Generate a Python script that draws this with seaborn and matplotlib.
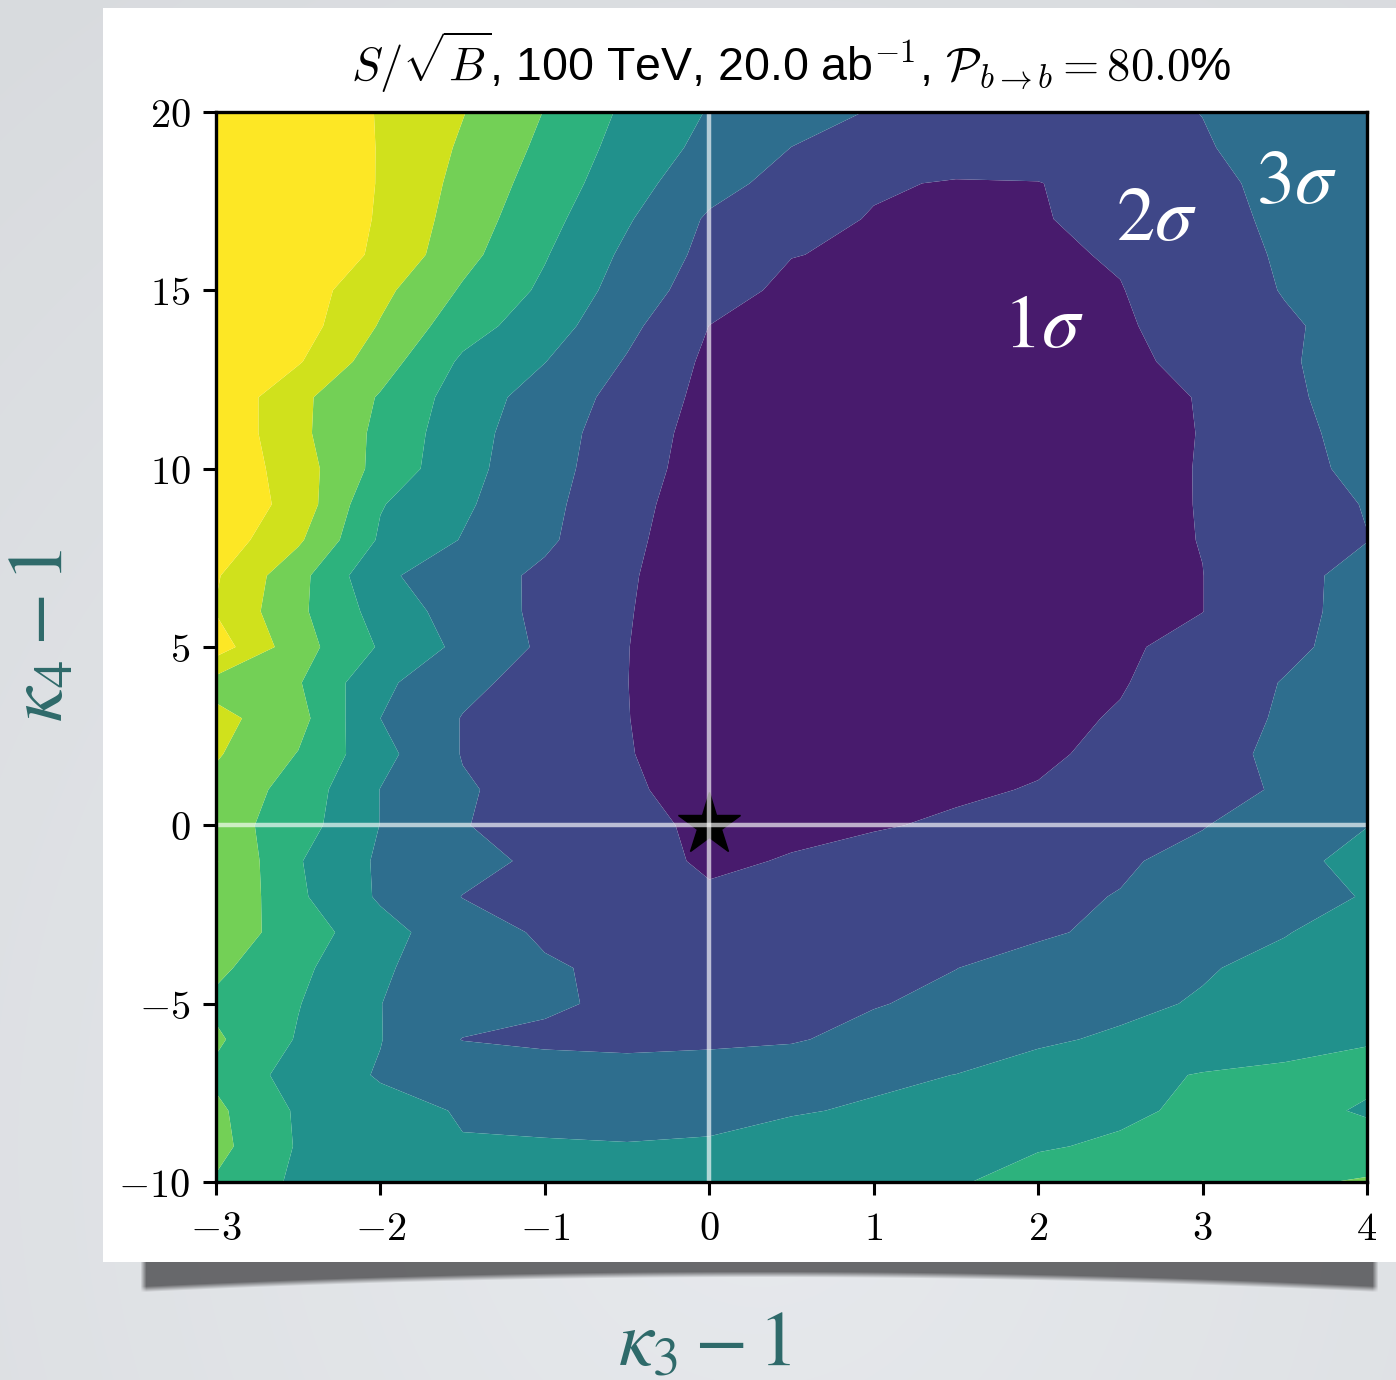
import numpy as np
import matplotlib
matplotlib.use("Agg")
import matplotlib.pyplot as plt
import seaborn as sns
from matplotlib.patches import Rectangle

# ---- data ---------------------------------------------------------------
kappa3_minus_1 = np.arange(-3.0, 4.01, 0.5)          # 15 columns
kappa4_minus_1 = np.arange(20, -11, -1)              # 31 rows, listed top to bottom

# S/sqrt(B) significance on the (kappa3-1, kappa4-1) grid, one row per kappa4 value (20 ... -10)
significance_rows = [
    [8.70, 7.81, 6.93, 6.04, 4.97, 3.81, 2.94, 2.39, 1.94, 1.72, 1.68, 1.84, 2.01, 2.31, 2.60],
    [8.60, 7.78, 6.95, 5.87, 4.78, 3.61, 2.73, 1.99, 1.76, 1.53, 1.50, 1.73, 1.95, 2.25, 2.55],
    [8.50, 7.74, 6.95, 5.70, 4.56, 3.39, 2.35, 1.64, 1.10, 0.93, 0.97, 1.40, 1.83, 2.19, 2.50],
    [8.40, 7.68, 6.92, 5.53, 4.32, 3.10, 1.87, 1.34, 0.94, 0.81, 0.94, 1.26, 1.75, 2.15, 2.45],
    [8.30, 7.63, 6.85, 5.31, 4.07, 2.80, 1.71, 1.03, 0.85, 0.71, 0.87, 1.07, 1.63, 2.10, 2.40],
    [8.20, 7.54, 6.26, 4.89, 3.82, 2.56, 1.47, 0.75, 0.70, 0.61, 0.79, 0.97, 1.49, 2.05, 2.40],
    [8.10, 7.47, 5.92, 4.41, 3.47, 2.25, 0.99, 0.70, 0.62, 0.51, 0.71, 0.91, 1.32, 1.88, 2.35],
    [7.90, 7.09, 5.45, 3.84, 3.02, 1.92, 0.81, 0.66, 0.58, 0.46, 0.66, 0.86, 1.18, 1.80, 2.80],
    [7.80, 6.25, 4.91, 3.54, 2.55, 1.67, 0.72, 0.62, 0.54, 0.41, 0.61, 0.81, 1.03, 1.75, 2.60],
    [7.80, 6.25, 4.75, 3.39, 2.40, 1.52, 0.61, 0.58, 0.50, 0.37, 0.58, 0.79, 1.02, 1.68, 2.40],
    [7.80, 6.48, 4.66, 3.31, 2.34, 1.44, 0.54, 0.52, 0.48, 0.35, 0.57, 0.79, 1.03, 1.61, 2.30],
    [7.80, 6.62, 4.06, 3.15, 2.24, 1.33, 0.40, 0.45, 0.45, 0.32, 0.55, 0.78, 1.03, 1.55, 2.05],
    [7.60, 6.16, 3.86, 2.95, 2.16, 1.24, 0.30, 0.42, 0.44, 0.32, 0.55, 0.78, 1.02, 1.53, 1.98],
    [7.10, 5.32, 3.18, 2.45, 1.82, 1.10, 0.42, 0.45, 0.46, 0.34, 0.56, 0.78, 0.99, 1.72, 2.30],
    [6.95, 5.20, 3.61, 2.54, 1.79, 1.06, 0.36, 0.47, 0.49, 0.37, 0.58, 0.79, 0.99, 1.70, 2.35],
    [7.50, 5.40, 3.90, 2.75, 1.83, 1.02, 0.40, 0.50, 0.52, 0.42, 0.65, 0.88, 1.26, 1.78, 2.40],
    [5.60, 5.08, 3.21, 2.25, 1.60, 1.01, 0.45, 0.55, 0.56, 0.47, 0.71, 0.94, 1.46, 2.05, 2.60],
    [6.30, 5.35, 3.00, 1.96, 1.49, 1.02, 0.50, 0.60, 0.60, 0.52, 0.78, 1.07, 1.58, 2.11, 2.70],
    [6.10, 4.96, 3.31, 1.95, 1.50, 1.04, 0.63, 0.66, 0.64, 0.72, 0.89, 1.17, 1.67, 2.21, 2.80],
    [5.70, 4.60, 2.98, 2.11, 1.59, 1.13, 0.65, 0.75, 0.78, 0.90, 1.04, 1.37, 1.70, 2.10, 2.90],
    [5.50, 4.44, 2.98, 2.04, 1.63, 1.23, 0.84, 0.84, 0.94, 1.10, 1.39, 1.67, 1.96, 2.47, 2.98],
    [6.05, 4.07, 2.85, 2.31, 1.80, 1.34, 0.87, 1.05, 1.27, 1.48, 1.69, 1.90, 2.25, 2.73, 3.30],
    [6.02, 4.16, 2.87, 1.98, 1.68, 1.37, 1.12, 1.30, 1.48, 1.66, 1.84, 2.03, 2.36, 2.70, 3.05],
    [5.60, 4.52, 3.36, 2.40, 1.88, 1.66, 1.44, 1.28, 1.48, 1.69, 1.89, 2.18, 2.56, 2.95, 3.50],
    [5.20, 4.23, 3.10, 2.56, 2.09, 1.83, 1.63, 1.58, 1.78, 1.99, 2.30, 2.61, 2.91, 3.30, 3.70],
    [4.80, 4.04, 3.01, 2.55, 2.09, 1.88, 1.74, 1.81, 1.95, 2.20, 2.49, 2.78, 3.09, 3.47, 3.85],
    [5.15, 3.92, 3.03, 1.97, 1.88, 1.84, 1.86, 1.92, 2.27, 2.57, 2.86, 3.14, 3.41, 3.68, 3.95],
    [4.80, 3.58, 2.92, 2.69, 2.30, 2.25, 2.35, 2.55, 2.84, 3.01, 3.39, 3.77, 4.05, 4.18, 4.20],
    [5.20, 3.87, 3.28, 2.94, 2.81, 2.71, 2.82, 2.93, 3.10, 3.37, 3.63, 3.90, 4.11, 4.30, 3.90],
    [5.30, 3.91, 3.50, 3.04, 3.06, 3.04, 3.07, 3.37, 3.57, 3.76, 3.95, 4.08, 4.19, 4.29, 4.40],
    [4.90, 3.80, 3.72, 3.50, 3.38, 3.34, 3.32, 3.53, 3.73, 3.94, 4.25, 4.60, 5.03, 4.85, 5.10],
]

sigma_levels = np.arange(0, 8)                       # 0,1,...,7 ; above 7 -> extended colour
sigma_labels = ["$1\\sigma$", "$2\\sigma$", "$3\\sigma$"]
sigma_label_x = [2.03, 2.72, 3.57]
sigma_label_y = [13.97, 16.97, 18.00]

x_ticks = [-3, -2, -1, 0, 1, 2, 3, 4]
y_ticks = [-10, -5, 0, 5, 10, 15, 20]

sm_point = (0.0, 0.0)

title_text = (r"$S/\sqrt{B}$, 100 TeV, 20.0 ab$^{-1}$, "
              r"$\mathcal{P}_{b\to b}=80.0$%")
xlabel_text = r"$\kappa_3 - 1$"
ylabel_text = r"$\kappa_4 - 1$"

# ---- style --------------------------------------------------------------
sns.set_theme(style="white")
plt.rcParams["font.family"] = ["Liberation Sans", "DejaVu Sans"]
plt.rcParams["mathtext.fontset"] = "cm"

W, H = 1396, 1380
fig = plt.figure(figsize=(W / 100, H / 100), dpi=100)

# ---- slide background, drop shadow and white card (pixel coordinates) ----
bg = fig.add_axes([0, 0, 1, 1], zorder=-10)
bg.set_xlim(0, W)
bg.set_ylim(H, 0)
bg.axis("off")

yy, xx = np.mgrid[0:H, 0:W].astype(float)
r = np.sqrt(((xx - 760) / 900) ** 2 + ((yy - 1150) / 1000) ** 2)
shade = 0.918 - 0.04 * np.clip(r, 0, 1.4)
img = np.dstack([shade * 0.985, shade * 0.997, shade * 1.012])

# curved shadow beneath the card
sx0, sx1 = 140.0, 1378.0
t = np.clip((xx - 760.0) / 620.0, -1.2, 1.2)
bottom = 1277.0 + 15.0 * t ** 2
inside_x = np.clip(np.minimum(xx - sx0, sx1 - xx) / 6.0, 0, 1)
alpha_v = np.clip((bottom - yy) / 6.0, 0, 1) * np.clip((yy - 1245.0) / 4.0, 0, 1)
sh_alpha = 0.8 * inside_x * alpha_v
shadow_rgb = np.array([0.29, 0.29, 0.30])
img = img * (1 - sh_alpha[..., None]) + shadow_rgb * sh_alpha[..., None]
bg.imshow(np.clip(img, 0, 1), extent=(0, W, H, 0), interpolation="bilinear", zorder=0)
bg.add_patch(Rectangle((103, 8), W - 103, 1254, facecolor="white",
                       edgecolor="none", zorder=1))

# ---- main contour panel -------------------------------------------------
ax = fig.add_axes([216 / W, 1 - 1182 / H, (1367 - 216) / W, (1182 - 112) / H])
Z = np.array(significance_rows)[::-1]
Y = kappa4_minus_1[::-1]
cmap = sns.color_palette("viridis", as_cmap=True)
ax.contourf(kappa3_minus_1, Y, Z, levels=sigma_levels, cmap=cmap,
            extend="max", antialiased=True)

ax.plot(*sm_point, marker="*", color="black", markersize=47, zorder=4,
        linestyle="none")
ax.axvline(0, color="white", alpha=0.65, lw=3.2, zorder=5)
ax.axhline(0, color="white", alpha=0.65, lw=3.2, zorder=5)

for lab, lx, ly in zip(sigma_labels, sigma_label_x, sigma_label_y):
    ax.text(lx, ly, lab, color="white", fontsize=55, ha="center", va="center",
            math_fontfamily="stix", zorder=6)

ax.set_xlim(-3, 4)
ax.set_ylim(-10, 20)
ax.set_xticks(x_ticks)
ax.set_yticks(y_ticks)
ax.set_xticklabels([f"${v}$" for v in x_ticks])
ax.set_yticklabels([f"${v}$" for v in y_ticks])
ax.tick_params(axis="both", which="major", bottom=True, left=True,
               direction="out", length=9.5, width=2.2, colors="black",
               labelsize=29)
ax.tick_params(axis="x", pad=11)
ax.tick_params(axis="y", pad=9)
for sp in ax.spines.values():
    sp.set_color("black")
    sp.set_linewidth(2.4)
    sp.set_zorder(7)

ax.set_title(title_text, fontsize=33.5, pad=22, color="black")

# ---- slide axis labels --------------------------------------------------
label_color = "#2e6a6a"
fig.text(705 / W, 1 - 1344 / H, xlabel_text, fontsize=56, color=label_color,
         ha="center", va="center", math_fontfamily="stix")
fig.text(42 / W, 1 - 635 / H, ylabel_text, fontsize=56, color=label_color,
         ha="center", va="center", rotation=90, math_fontfamily="stix")

fig.savefig("out.png", dpi=100)
